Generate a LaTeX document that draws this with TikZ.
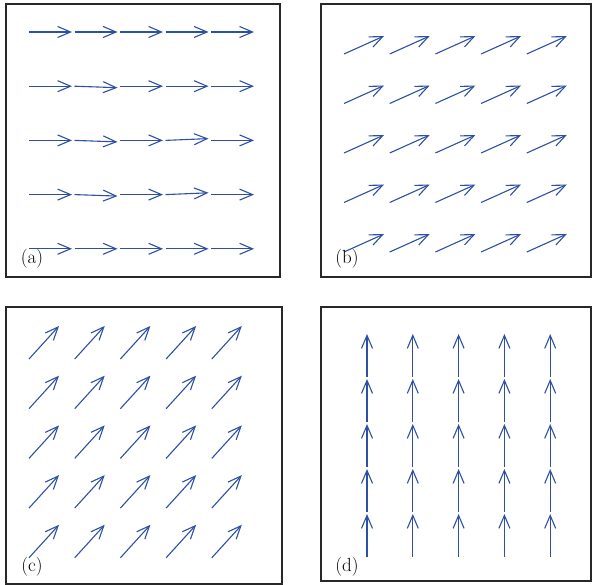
\documentclass[tikz,border=0pt]{standalone}
\usetikzlibrary{arrows.meta}
\definecolor{vecblue}{RGB}{45,80,165}
\definecolor{boxgray}{RGB}{40,40,40}
\tikzset{
  vec/.style={draw=vecblue, line width=1.1pt, -{Straight Barb[length=13pt,width=11pt,line width=1.1pt]}},
  panel/.style={draw=boxgray, line width=1.5pt},
  lbl/.style={font=\fontsize{19}{22}\selectfont, inner sep=0pt}
}
\begin{document}
\begin{tikzpicture}[x=1pt,y=-1pt]
\useasboundingbox (0,0) rectangle (592,585);
% panels
\draw[panel] (6,4) rectangle (280,277);
\draw[panel] (321,4) rectangle (591,277);
\draw[panel] (6,307) rectangle (282,584);
\draw[panel] (321,307) rectangle (591,581);
% (a)
\foreach \r in {0,...,4}{
  \foreach \c in {0,...,4}{
    \pgfmathsetmacro{\xs}{29+45.5*\c}
    \pgfmathsetmacro{\ys}{32+54.2*\r}
    \pgfmathsetmacro{\dy}{(\c==1)*(\r>0)*(\r<4)*1.5 - (\c==3)*(\r>1)*(\r<4)*1.8}
    \draw[vec] (\xs,\ys) -- ++(43,\dy);
  }
}
% (b)
\foreach \r in {0,...,4}{
  \foreach \c in {0,...,4}{
    \pgfmathsetmacro{\xs}{344+45.7*\c}
    \pgfmathsetmacro{\ys}{54+49.5*\r}
    \draw[vec] (\xs,\ys) -- ++(40,-18);
  }
}
% (c)
\foreach \r in {0,...,4}{
  \foreach \c in {0,...,4}{
    \pgfmathsetmacro{\xs}{29+45.7*\c}
    \pgfmathsetmacro{\ys}{359+49.7*\r}
    \draw[vec] (\xs,\ys) -- ++(30,-33);
  }
}
% (d)
\foreach \c in {0,...,4}{
  \foreach \k in {0,...,4}{
    \pgfmathsetmacro{\xs}{367+45.8*\c}
    \pgfmathsetmacro{\ys}{557-45*\k}
    \draw[vec] (\xs,\ys) -- ++(0,-43);
  }
}
% labels
\node[lbl] (la) at (32,259) {(a)};
\node[lbl] (lb) at (347,259) {(b)};
\node[lbl] (lc) at (32,567) {(c)};
\node[lbl] (ld) at (347,567) {(d)};
\end{tikzpicture}
\end{document}
